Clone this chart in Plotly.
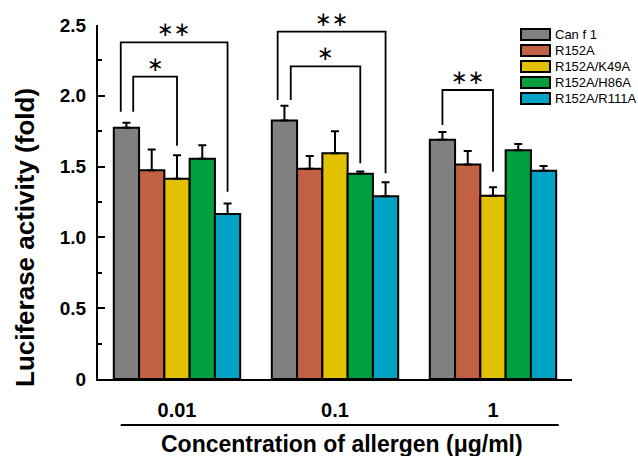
import plotly.graph_objects as go

# ---- data ----
concentrations = ["0.01", "0.1", "1"]
series_names = ["Can f 1", "R152A", "R152A/K49A", "R152A/H86A", "R152A/R111A"]
colors = ["#808080", "#C26043", "#E2C100", "#00A03F", "#00A3C4"]
can_f1 = [1.775, 1.825, 1.69]
r152a = [1.475, 1.485, 1.515]
r152a_k49a = [1.415, 1.595, 1.295]
r152a_h86a = [1.555, 1.45, 1.615]
r152a_r111a = [1.165, 1.29, 1.47]
can_f1_err = [0.035, 0.105, 0.055]
r152a_err = [0.145, 0.09, 0.095]
r152a_k49a_err = [0.165, 0.155, 0.06]
r152a_h86a_err = [0.095, 0.015, 0.045]
r152a_r111a_err = [0.075, 0.1, 0.035]
y_tickvals = [0, 0.5, 1.0, 1.5, 2.0, 2.5]
y_ticktext = ["0", "0.5", "1.0", "1.5", "2.0", "2.5"]

values = [can_f1, r152a, r152a_k49a, r152a_h86a, r152a_r111a]
errors = [can_f1_err, r152a_err, r152a_k49a_err, r152a_h86a_err, r152a_r111a_err]

# significance brackets
sig_groups = [0, 0, 1, 1, 2]
sig_left_bar = [0, 0, 0, 0, 0]
sig_right_bar = [4, 2, 4, 3, 2]
sig_top = [2.378, 2.135, 2.453, 2.208, 2.041]
sig_left_bottom = [1.888, 1.888, 1.970, 1.970, 1.794]
sig_right_bottom = [1.323, 1.648, 1.453, 1.523, 1.464]
sig_left_shift = [-0.036, 0.043, -0.043, 0.04, 0.0]
sig_labels = ["∗∗", "∗", "∗∗", "∗", "∗∗"]

BAR_W = 0.16
xpos = list(range(len(concentrations)))

FONT = "Arial, Liberation Sans, Helvetica, sans-serif"

fig = go.Figure()
for name, col, vals, errs in zip(series_names, colors, values, errors):
    fig.add_trace(go.Bar(
        x=xpos, y=vals, name=name,
        marker=dict(color=col, line=dict(color="black", width=2)),
        error_y=dict(type="data", array=errs, arrayminus=[0] * len(errs), symmetric=False,
                     color="black", thickness=2, width=4),
        showlegend=False,
    ))

shapes = []
annotations = []

def bar_x(g, b):
    return g + (b - 2) * BAR_W

for g, lb, rb, top, lbot, rbot, lsh, lab in zip(sig_groups, sig_left_bar, sig_right_bar, sig_top,
                                                 sig_left_bottom, sig_right_bottom, sig_left_shift, sig_labels):
    x0 = bar_x(g, lb) + lsh
    x1 = bar_x(g, rb)
    path = f"M {x0} {lbot} L {x0} {top} L {x1} {top} L {x1} {rbot}"
    shapes.append(dict(type="path", path=path, xref="x", yref="y",
                       line=dict(color="black", width=1.8)))
    annotations.append(dict(x=(x0 + x1) / 2, y=top, xref="x", yref="y", text=lab,
                            showarrow=False, yanchor="bottom", yshift=-1,
                            font=dict(family="DejaVu Sans", size=20, color="black")))

# legend (drawn manually to match swatch shape)
L, T, PW, PH = 98, 25, 474, 354
def px(xp):
    return (xp - L) / PW
def py(yp):
    return (T + PH - yp) / PH

for i, (name, col) in enumerate(zip(series_names, colors)):
    yc = 34.5 + 16 * i
    shapes.append(dict(type="rect", xref="paper", yref="paper",
                       x0=px(521), x1=px(550), y0=py(yc + 5.5), y1=py(yc - 5.5),
                       fillcolor=col, line=dict(color="black", width=2)))
    annotations.append(dict(x=px(553), y=py(yc), xref="paper", yref="paper", text=name,
                            showarrow=False, xanchor="left", yanchor="middle",
                            font=dict(family=FONT, size=13, color="black")))

# underline under x tick labels
shapes.append(dict(type="line", xref="x", yref="paper", x0=-0.356, x1=2.416,
                   y0=py(425), y1=py(425), line=dict(color="black", width=1.8)))

# axis titles
annotations.append(dict(x=px(342), y=py(444), xref="paper", yref="paper",
                        text="Concentration of allergen (μg/ml)", showarrow=False,
                        xanchor="center", yanchor="middle",
                        font=dict(family=FONT, size=23, color="black", weight="bold")))
annotations.append(dict(x=px(25), y=py(238), xref="paper", yref="paper",
                        text="Luciferase activity (fold)", showarrow=False, textangle=-90,
                        xanchor="center", yanchor="middle",
                        font=dict(family=FONT, size=26, color="black", weight="bold")))

fig.update_layout(
    width=638, height=456,
    margin=dict(l=L, r=638 - L - PW, t=T, b=456 - T - PH, autoexpand=False),
    plot_bgcolor="white", paper_bgcolor="white",
    barmode="group", bargap=0.2, bargroupgap=0,
    shapes=shapes, annotations=annotations,
    font=dict(family=FONT, color="black"),
)
fig.update_xaxes(
    range=[-0.5, 2.5], tickvals=xpos, ticktext=concentrations, automargin=False,
    showline=True, linecolor="black", linewidth=2, ticks="", showgrid=False, zeroline=False,
    tickfont=dict(family=FONT, size=20, color="black", weight="bold"),
    ticklabelstandoff=12,
)
fig.update_yaxes(
    range=[0, 2.5], tickvals=y_tickvals, ticktext=y_ticktext, automargin=False,
    showline=True, linecolor="black", linewidth=2, showgrid=False, zeroline=False,
    ticks="inside", ticklen=7, tickwidth=2, tickcolor="black",
    minor=dict(ticks="inside", ticklen=4, tickwidth=2, tickcolor="black", dtick=0.25, tick0=0, showgrid=False),
    tickfont=dict(family=FONT, size=19, color="black", weight="bold"),
    ticklabelstandoff=6,
)

fig.write_html("out.html", config={"displayModeBar": False},
               post_script="document.body.style.margin='0';document.body.style.padding='0';")
